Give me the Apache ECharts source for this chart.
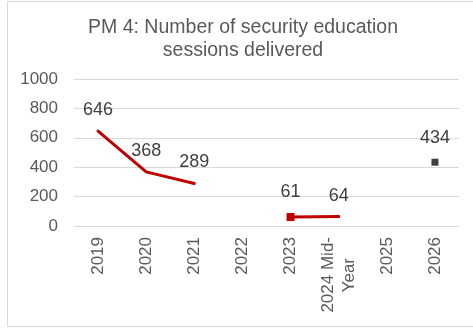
<!DOCTYPE html>
<html>
<head>
<meta charset="utf-8">
<script src="https://cdn.jsdelivr.net/npm/echarts@6/dist/echarts.min.js"></script>
<style>
html,body{margin:0;padding:0;background:#fff;}
#c{width:473px;height:329px;}
</style>
</head>
<body>
<div id="c"></div>
<script>
var categories = ['2019', '2020', '2021', '2022', '2023', '2024 Mid-Year', '2025', '2026'];
var actualValues = [646, 368, 289, null, 61, 64, null, null];
var targetValues = [null, null, null, null, null, null, null, 434];
var yTicks = {min: 0, max: 1000, interval: 200};
var titleText = 'PM 4: Number of security education\nsessions delivered';

var font = 'Liberation Sans, Arial, sans-serif';
var chart = echarts.init(document.getElementById('c'), null, {renderer: 'canvas'});

var actualData = actualValues.map(function (v, i) {
  return {
    value: v,
    symbol: i === 4 ? 'rect' : 'circle',
    symbolSize: i === 4 ? 8 : 0.01
  };
});

var lblStyle = {fontFamily: font, fontSize: 17, color: '#595959', lineHeight: 21};

chart.setOption({
  animation: false,
  backgroundColor: '#fff',
  title: {
    text: titleText,
    left: 238,
    top: 11,
    textAlign: 'center',
    textStyle: {fontFamily: font, fontSize: 19.5, fontWeight: 'normal', color: '#595959', lineHeight: 23}
  },
  graphic: [{
    type: 'rect',
    shape: {x: 7.5, y: 1.5, width: 470, height: 325},
    style: {fill: 'none', stroke: '#d9d9d9', lineWidth: 1},
    silent: true
  }],
  grid: {left: 74, right: 14, top: 79, bottom: 103, containLabel: false},
  xAxis: {
    type: 'category',
    data: categories,
    boundaryGap: true,
    axisLine: {show: false},
    axisTick: {show: false},
    axisLabel: {
      rotate: 90,
      interval: 0,
      margin: 11,
      fontFamily: font,
      fontSize: 17,
      color: '#595959',
      formatter: function (v) {
        var k = v.indexOf('Mid-');
        if (k >= 0) {
          return '{a|' + v.slice(0, k + 4) + '}\n{b|' + v.slice(k + 4) + '}';
        }
        return '{a|' + v + '}';
      },
      rich: {
        a: lblStyle,
        b: Object.assign({}, lblStyle, {padding: [0, 21, 0, 0]})
      }
    }
  },
  yAxis: {
    type: 'value',
    min: yTicks.min,
    max: yTicks.max,
    interval: yTicks.interval,
    axisLine: {show: false},
    axisTick: {show: false},
    splitLine: {lineStyle: {color: '#d9d9d9', width: 1}},
    axisLabel: {
      fontFamily: font, fontSize: 17, color: '#595959', margin: 16,
      formatter: function (v) { return String(v); }
    }
  },
  series: [{
    type: 'line',
    data: actualData,
    connectNulls: false,
    lineStyle: {color: '#c00000', width: 3, cap: 'round'},
    itemStyle: {color: '#c00000'},
    showSymbol: true,
    label: {
      show: true,
      position: 'top',
      distance: 12,
      fontFamily: font,
      fontSize: 18,
      color: '#404040'
    }
  }, {
    type: 'line',
    data: targetValues,
    symbol: 'rect',
    symbolSize: 7,
    lineStyle: {width: 0},
    itemStyle: {color: '#404040'},
    label: {
      show: true,
      position: 'top',
      distance: 12,
      fontFamily: font,
      fontSize: 18,
      color: '#404040'
    }
  }]
});
</script>
</body>
</html>
